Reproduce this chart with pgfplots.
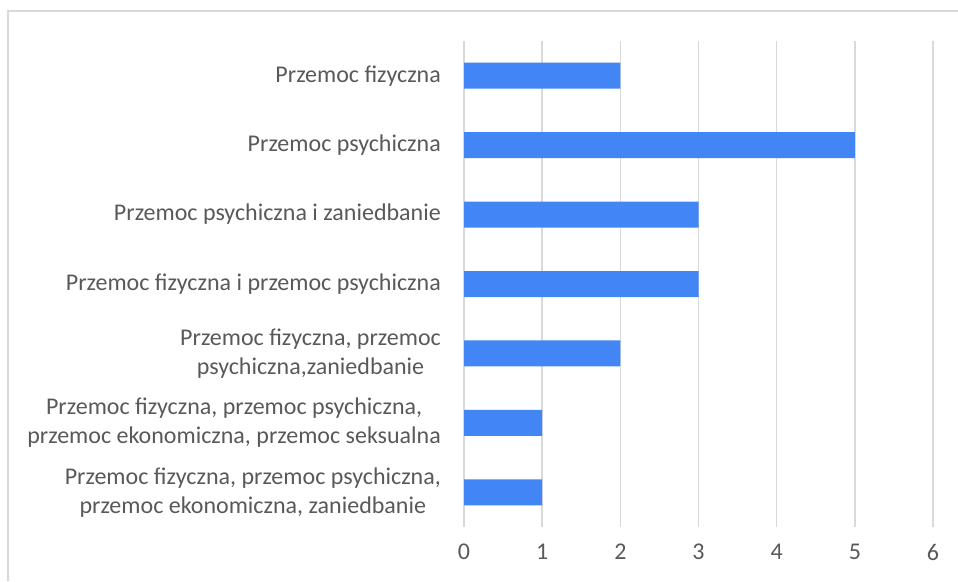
\documentclass[border=0pt]{standalone}
\usepackage{pgfplots}
\pgfplotsset{compat=1.18}
\usepackage{fontspec}
\setmainfont{Carlito}
\definecolor{barblue}{HTML}{4285F4}
\definecolor{txtgray}{HTML}{595959}
\definecolor{gridgray}{HTML}{D9D9D9}
\begin{document}
\begin{tikzpicture}
\draw[color=gridgray, line width=2pt] (8pt,0pt) -- (8pt,570pt) -- (958pt,570pt);
\begin{axis}[
  at={(464pt,54pt)}, anchor=south west,
  scale only axis, width=469pt, height=486pt,
  xbar, bar width=26pt,
  xmin=0, xmax=6, ymin=-0.5, ymax=6.5,
  y dir=reverse,
  xtick={0,1,2,3,4,5,6},
  ytick={0,1,2,3,4,5,6},
  yticklabels={
    {Przemoc fizyczna},
    {Przemoc psychiczna},
    {Przemoc psychiczna i zaniedbanie},
    {Przemoc fizyczna i przemoc psychiczna},
    {Przemoc fizyczna, przemoc\\psychiczna,zaniedbanie},
    {Przemoc fizyczna, przemoc psychiczna,\\przemoc ekonomiczna, przemoc seksualna},
    {Przemoc fizyczna, przemoc psychiczna,\\przemoc ekonomiczna, zaniedbanie}},
  axis line style={draw=none},
  major tick length=0pt,
  xmajorgrids, major grid style={color=gridgray, line width=1.6pt},
  /pgf/number format/assume math mode=true,
  ticklabel style={font=\fontsize{24pt}{29pt}\selectfont, text=txtgray, inner sep=0pt},
  yticklabel style={align=center, anchor=east},
  yticklabel shift=23pt,
  xticklabel style={anchor=north},
  xticklabel shift=17pt,
  clip=false,
]
\addplot[fill=barblue, draw=none] coordinates {
  (2,0) (5,1) (3,2) (3,3) (2,4) (1,5) (1,6)
};
\end{axis}
\pgfresetboundingbox
\path (0pt,0pt) rectangle (958pt,581pt);
\end{tikzpicture}
\end{document}
